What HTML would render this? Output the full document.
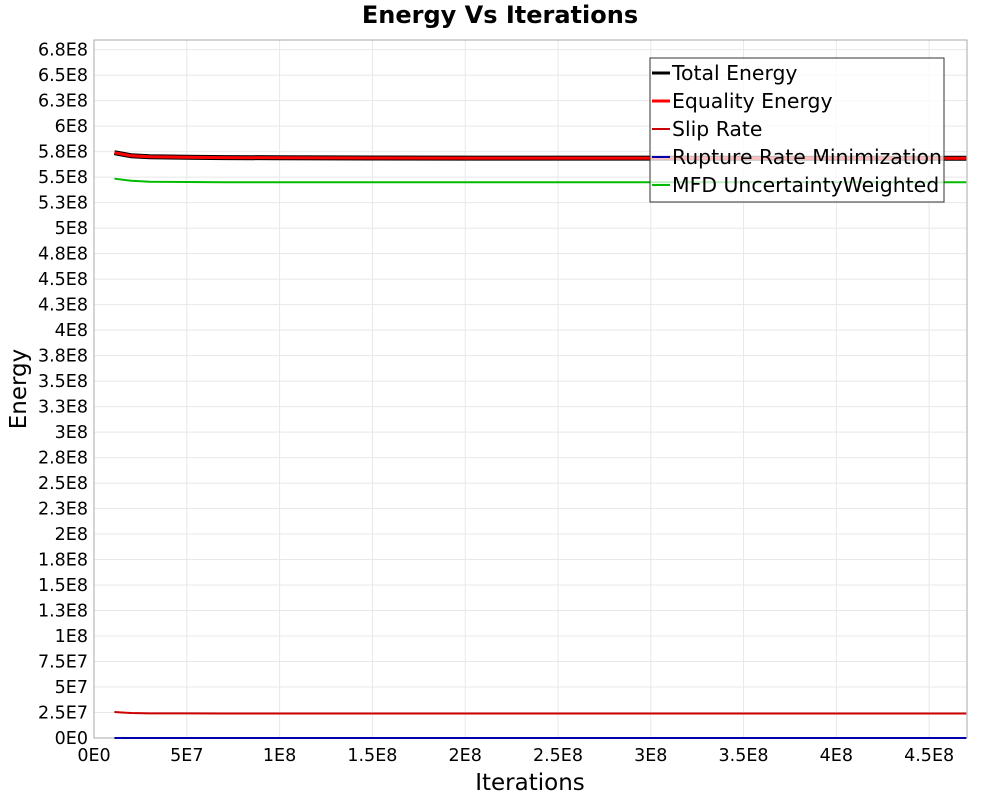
<!DOCTYPE html>
<html><head><meta charset="utf-8"><style>
body{margin:0;background:#fff;font-family:"Liberation Sans","DejaVu Sans",sans-serif}
</style></head><body>
<svg id="chart" width="1000" height="800" xmlns="http://www.w3.org/2000/svg" font-family="DejaVu Sans, Liberation Sans, sans-serif">
<rect width="1000" height="800" fill="#fff"/>
<text x="500" y="23" text-anchor="middle" font-size="24" font-weight="bold">Energy Vs Iterations</text>
<g id="grid"></g>
<rect x="94" y="40" width="873" height="698" fill="none" stroke="#aaa" stroke-width="1"/>
<g id="ylabels"></g><g id="xlabels"></g>
<g id="series"></g>
<text transform="translate(26,389) rotate(-90)" text-anchor="middle" font-size="23">Energy</text>
<text x="530" y="790" text-anchor="middle" font-size="23">Iterations</text>
<g id="legend"></g>
</svg>
<script>
const iterations=[1.1e7,2e7,3e7,5e7,7e7,1e8,1.5e8,2e8,3e8,4e8,4.7e8];
const totalEnergy=[5.74e8,5.71e8,5.70e8,5.695e8,5.692e8,5.69e8,5.688e8,5.687e8,5.686e8,5.685e8,5.685e8];
const equalityEnergy=[5.74e8,5.71e8,5.70e8,5.695e8,5.692e8,5.69e8,5.688e8,5.687e8,5.686e8,5.685e8,5.685e8];
const slipRate=[2.55e7,2.45e7,2.42e7,2.41e7,2.4e7,2.4e7,2.4e7,2.4e7,2.4e7,2.4e7,2.4e7];
const ruptureRate=[0,0,0,0,0,0,0,0,0,0,0];
const mfdWeighted=[5.485e8,5.465e8,5.455e8,5.452e8,5.45e8,5.45e8,5.45e8,5.45e8,5.45e8,5.45e8,5.45e8];
const yTicks=[0,2.5e7,5e7,7.5e7,1e8,1.25e8,1.5e8,1.75e8,2e8,2.25e8,2.5e8,2.75e8,3e8,3.25e8,3.5e8,3.75e8,4e8,4.25e8,4.5e8,4.75e8,5e8,5.25e8,5.5e8,5.75e8,6e8,6.25e8,6.5e8,6.75e8];
const yTickLabels=["0E0","2.5E7","5E7","7.5E7","1E8","1.3E8","1.5E8","1.8E8","2E8","2.3E8","2.5E8","2.8E8","3E8","3.3E8","3.5E8","3.8E8","4E8","4.3E8","4.5E8","4.8E8","5E8","5.3E8","5.5E8","5.8E8","6E8","6.3E8","6.5E8","6.8E8"];
const xTicks=[0,5e7,1e8,1.5e8,2e8,2.5e8,3e8,3.5e8,4e8,4.5e8];
const xTickLabels=["0E0","5E7","1E8","1.5E8","2E8","2.5E8","3E8","3.5E8","4E8","4.5E8"];
const NS="http://www.w3.org/2000/svg";
const X0=94,X1=967,Y0=738,Y1=40,XMAX=4.704e8,YMAX=6.845e8;
const xs=v=>X0+v/XMAX*(X1-X0), ys=v=>Y0-v/YMAX*(Y0-Y1);
function mk(t,a,p){const e=document.createElementNS(NS,t);for(const k in a)e.setAttribute(k,a[k]);p.appendChild(e);return e;}
const grid=document.getElementById('grid'),yl=document.getElementById('ylabels'),xl=document.getElementById('xlabels');
yTicks.forEach((v,i)=>{
 const l=mk('line',{x1:X0,x2:X1,y1:ys(v),y2:ys(v),stroke:'#e8e8e8'},grid);
 
 
 const t=mk('text',{x:88,y:ys(v)+6,'text-anchor':'end','font-size':17.5},yl);t.textContent=yTickLabels[i];
 
 
});
xTicks.forEach((v,i)=>{
 const l=mk('line',{x1:xs(v),x2:xs(v),y1:Y1,y2:Y0,stroke:'#e8e8e8'},grid);
 
 
 const t=mk('text',{x:xs(v),y:761,'text-anchor':'middle','font-size':17.5},xl);t.textContent=xTickLabels[i];
 
 
});
const series=[
 {name:'Total Energy',data:totalEnergy,color:'#000',w:5,id:'total-energy-line'},
 {name:'Equality Energy',data:equalityEnergy,color:'#f00',w:3,id:'equality-energy-line'},
 {name:'Slip Rate',data:slipRate,color:'#c00',w:2,id:'slip-rate-line'},
 {name:'Rupture Rate Minimization',data:ruptureRate,color:'#00a',w:2,id:'rupture-rate-line'},
 {name:'MFD UncertaintyWeighted',data:mfdWeighted,color:'#0b0',w:2,id:'mfd-line'}];
const sg=document.getElementById('series');
series.forEach(s=>{
 const p=mk('polyline',{points:iterations.map((x,i)=>xs(x)+','+ys(s.data[i])).join(' '),fill:'none',stroke:s.color,'stroke-width':s.w},sg);
 
 
});
const lg=document.getElementById('legend');
const box=mk('rect',{x:650,y:58,width:294,height:144,fill:'#fff','fill-opacity':0.75,stroke:'#333'},lg);


series.forEach((s,i)=>{
 const y=73+i*28;
 const l=mk('line',{x1:652,x2:670,y1:y,y2:y,stroke:s.color,'stroke-width':Math.min(s.w,3)},lg);
 
 
 const t=mk('text',{x:672,y:y+7,'font-size':20.4},lg);t.textContent=s.name;
 
 
});
</script>
</body></html>
